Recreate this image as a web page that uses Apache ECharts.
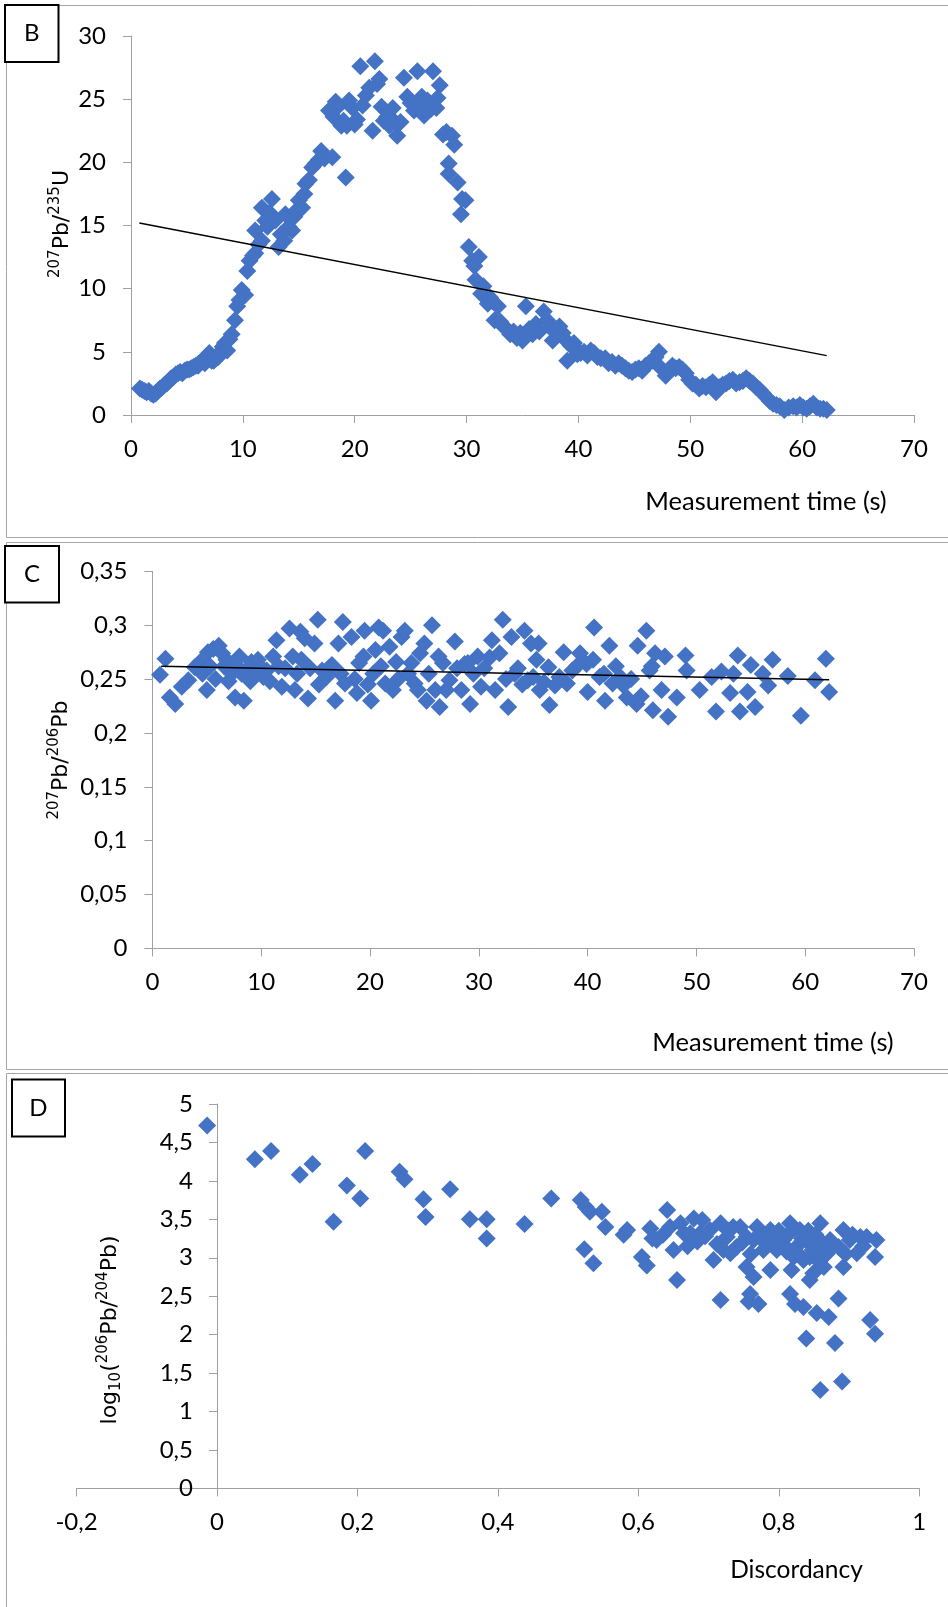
<!DOCTYPE html>
<html>
<head>
<meta charset="utf-8">
<title>Pb isotope ratios over measurement time and discordancy</title>
<script src="https://cdn.jsdelivr.net/npm/echarts@6/dist/echarts.min.js"></script>
<style>
  html, body { margin: 0; padding: 0; background: #ffffff; }
  #chart { width: 948px; height: 1607px; }
</style>
</head>
<body>
<div id="chart"></div>
<script>
// ---- Panel B: 207Pb/235U against measurement time (s) ----
const pb207U235 = [
  [0.8,2.1],[1.0,2.0],[1.2,1.9],[1.4,1.8],[1.6,1.9],[1.8,1.7],[2.0,1.6],[2.2,1.7],[2.4,1.9],[2.6,2.1],
  [2.8,2.2],[3.0,2.4],[3.2,2.5],[3.4,2.7],[3.6,2.9],[3.8,3.0],[4.0,3.2],[4.2,3.3],[4.4,3.4],[4.6,3.3],
  [4.8,3.5],[5.0,3.6],[5.2,3.6],[5.4,3.7],[5.6,3.8],[5.8,3.9],[6.0,3.9],[6.2,4.2],[6.4,4.3],[6.6,4.1],
  [6.8,4.4],[7.0,4.9],[7.2,4.3],[7.4,4.3],[7.6,4.5],[7.8,4.6],[8.0,5.0],[8.2,5.4],[8.4,5.7],[8.6,5.1],
  [8.8,6.0],[9.0,6.4],[9.3,7.5],[9.5,8.6],[9.7,9.1],[9.9,9.9],[10.2,9.5],[10.4,11.4],[10.6,12.2],[10.9,12.6],
  [11.1,12.8],[11.1,14.6],[11.4,13.5],[11.7,13.8],[11.7,16.4],[12.0,15.4],[12.2,14.9],[12.4,16.0],[12.6,17.1],[12.9,15.4],
  [13.2,13.3],[13.4,14.3],[13.7,13.8],[13.8,15.9],[14.1,14.9],[14.4,14.6],[14.6,15.7],[14.8,16.2],[15.0,17.0],[15.3,16.4],
  [15.5,17.5],[15.6,18.3],[15.9,18.6],[16.2,19.6],[16.5,19.9],[16.8,20.2],[17.0,20.9],[17.3,20.3],[17.7,24.1],[18.0,20.4],
  [18.1,23.6],[18.3,24.8],[18.6,24.5],[18.8,22.9],[19.0,23.3],[19.2,18.8],[19.3,22.9],[19.5,24.9],[19.8,24.3],[20.0,23.0],
  [20.2,23.4],[20.5,27.6],[20.7,24.5],[21.0,25.3],[21.3,25.9],[21.6,22.5],[21.8,28.0],[22.0,26.2],[22.2,26.6],[22.4,24.4],
  [22.6,23.3],[22.9,23.6],[23.1,22.9],[23.4,24.3],[23.6,23.2],[23.8,22.1],[24.1,23.2],[24.4,26.7],[24.7,25.2],[25.0,24.7],
  [25.3,24.1],[25.6,27.2],[25.8,24.3],[26.0,25.2],[26.2,23.7],[26.5,24.9],[26.8,24.2],[27.0,27.2],[27.3,24.3],[27.4,25.1],
  [27.6,26.1],[27.9,22.2],[28.2,22.4],[28.4,19.9],[28.4,19.1],[28.7,22.1],[28.9,21.4],[29.2,18.4],[29.5,15.9],[29.6,17.1],
  [29.9,17.0],[30.2,13.3],[30.5,12.2],[30.7,11.8],[30.8,10.7],[31.1,12.5],[31.3,9.6],[31.5,10.2],[31.9,8.8],[32.1,9.3],
  [32.3,9.0],[32.5,7.5],[32.8,8.6],[33.0,7.4],[33.3,7.0],[33.6,6.8],[33.9,6.4],[34.2,6.6],[34.5,6.1],[34.8,6.5],
  [35.0,5.9],[35.3,8.6],[35.6,6.8],[35.9,6.4],[36.2,7.2],[36.5,6.6],[36.9,8.2],[37.2,7.5],[37.5,6.9],[37.7,5.9],
  [38.0,6.8],[38.3,7.0],[38.6,6.5],[38.9,5.9],[39.0,4.3],[39.3,5.5],[39.6,5.7],[39.9,4.8],[40.2,4.9],[40.5,5.0],
  [40.8,4.7],[41.1,5.1],[41.4,4.9],[41.7,4.6],[42.0,4.5],[42.4,4.5],[42.7,4.1],[43.0,4.2],[43.3,3.9],[43.6,4.1],
  [43.9,3.9],[44.2,3.7],[44.5,3.5],[44.8,3.4],[45.1,3.6],[45.4,3.7],[45.7,3.5],[46.0,3.9],[46.3,4.1],[46.6,4.3],
  [46.9,4.6],[47.2,5.0],[47.4,3.7],[47.8,3.1],[48.1,3.6],[48.4,3.9],[48.7,3.7],[49.0,3.8],[49.3,3.6],[49.6,3.3],
  [49.9,2.8],[50.2,2.5],[50.5,2.4],[50.8,2.1],[51.1,2.3],[51.4,2.2],[51.7,2.4],[52.0,2.6],[52.3,1.8],[52.6,2.2],
  [52.9,2.4],[53.2,2.5],[53.5,2.7],[53.8,2.8],[54.1,2.5],[54.4,2.6],[54.7,2.7],[55.0,2.9],[55.3,2.7],[55.6,2.5],
  [55.9,2.2],[56.2,2.0],[56.5,1.7],[56.8,1.4],[57.1,1.1],[57.4,0.9],[57.7,0.8],[58.0,0.7],[58.4,0.4],[58.8,0.6],
  [59.2,0.7],[59.5,0.6],[59.8,0.8],[60.1,0.6],[60.4,0.5],[60.7,0.7],[61.0,0.9],[61.3,0.6],[61.6,0.5],[61.9,0.5],
  [62.2,0.4]
];
// linear trend over the same time span (end points)
const trendB = [[0.75, 15.2], [62.2, 4.7]];

// ---- Panel C: 207Pb/206Pb against measurement time (s) ----
const pb207Pb206 = [
  [0.7,0.254],[1.2,0.269],[1.6,0.233],[2.1,0.227],[2.7,0.243],[3.3,0.249],[3.9,0.261],[4.4,0.266],[4.6,0.255],[5.0,0.240],
  [5.1,0.275],[5.3,0.262],[5.6,0.278],[5.8,0.250],[6.1,0.281],[6.4,0.274],[6.6,0.262],[6.8,0.268],[7.0,0.248],[7.3,0.255],
  [7.6,0.233],[7.8,0.262],[8.0,0.271],[8.2,0.255],[8.4,0.230],[8.7,0.258],[9.0,0.248],[9.1,0.266],[9.4,0.255],[9.7,0.268],
  [9.9,0.262],[10.2,0.252],[10.5,0.258],[10.8,0.248],[11.1,0.271],[11.4,0.286],[11.6,0.262],[11.9,0.243],[12.2,0.260],[12.6,0.297],
  [12.9,0.271],[13.1,0.240],[13.3,0.255],[13.6,0.294],[13.7,0.268],[14.0,0.288],[14.3,0.232],[14.5,0.260],[14.9,0.283],[15.2,0.305],
  [15.3,0.245],[15.6,0.258],[16.0,0.252],[16.2,0.260],[16.5,0.263],[16.8,0.230],[17.1,0.283],[17.3,0.255],[17.5,0.303],[17.7,0.246],
  [18.3,0.289],[18.6,0.250],[18.8,0.237],[19.0,0.265],[19.4,0.271],[19.5,0.295],[19.8,0.245],[20.1,0.230],[20.3,0.255],[20.5,0.277],
  [20.8,0.298],[21.0,0.262],[21.2,0.295],[21.4,0.246],[21.8,0.280],[22.1,0.240],[22.4,0.266],[22.6,0.250],[22.9,0.289],[23.2,0.295],
  [23.5,0.255],[23.8,0.265],[24.1,0.246],[24.4,0.240],[24.6,0.274],[25.0,0.283],[25.2,0.230],[25.4,0.255],[25.7,0.300],[26.0,0.240],
  [26.3,0.271],[26.4,0.224],[26.7,0.265],[27.0,0.240],[27.3,0.249],[27.8,0.285],[28.0,0.260],[28.4,0.240],[28.7,0.264],[29.0,0.265],
  [29.2,0.227],[29.5,0.255],[29.9,0.271],[30.2,0.243],[30.5,0.260],[31.0,0.270],[31.2,0.286],[31.5,0.240],[31.9,0.274],[32.2,0.305],
  [32.5,0.250],[32.7,0.224],[33.0,0.289],[33.3,0.255],[33.6,0.260],[34.0,0.245],[34.2,0.295],[34.5,0.249],[34.8,0.283],[35.0,0.252],
  [35.3,0.268],[35.5,0.283],[35.6,0.240],[36.0,0.247],[36.4,0.261],[36.5,0.226],[37.0,0.244],[37.4,0.252],[37.8,0.275],[38.1,0.246],
  [38.6,0.258],[39.0,0.262],[39.3,0.274],[39.9,0.264],[40.0,0.238],[40.5,0.268],[40.6,0.298],[41.1,0.252],[41.5,0.255],[41.6,0.230],
  [42.0,0.281],[42.3,0.246],[42.6,0.262],[43.0,0.252],[43.3,0.244],[43.6,0.233],[44.0,0.250],[44.5,0.227],[44.6,0.281],[44.9,0.234],
  [45.4,0.295],[45.7,0.258],[45.9,0.262],[46.0,0.221],[46.2,0.274],[46.8,0.240],[47.1,0.271],[47.4,0.215],[48.2,0.233],[49.0,0.272],
  [49.1,0.258],[50.3,0.240],[51.4,0.252],[51.8,0.220],[52.3,0.257],[53.1,0.237],[53.4,0.255],[53.8,0.272],[54.0,0.220],[54.7,0.238],
  [55.0,0.263],[55.4,0.224],[56.1,0.255],[56.6,0.244],[57.0,0.268],[58.4,0.253],[59.6,0.216],[60.9,0.249],[61.9,0.269],[62.2,0.238]
];
const trendC = [[0.8, 0.262], [62.2, 0.2495]];

// ---- Panel D: log10(206Pb/204Pb) against discordancy ----
const discordLog = [
  [-0.014,4.72],[0.054,4.28],[0.077,4.39],[0.118,4.08],[0.136,4.22],[0.166,3.47],[0.185,3.94],[0.204,3.77],[0.211,4.39],[0.260,4.12],
  [0.267,4.02],[0.294,3.76],[0.297,3.53],[0.332,3.89],[0.360,3.50],[0.384,3.50],[0.384,3.25],[0.438,3.44],[0.476,3.77],[0.518,3.75],
  [0.523,3.11],[0.525,3.66],[0.531,3.60],[0.536,2.93],[0.548,3.60],[0.553,3.40],[0.579,3.30],[0.584,3.36],[0.605,3.01],[0.612,2.90],
  [0.617,3.38],[0.620,3.25],[0.626,3.23],[0.635,3.30],[0.641,3.62],[0.645,3.40],[0.650,3.10],[0.655,2.71],[0.660,3.45],[0.665,3.32],
  [0.670,3.15],[0.674,3.32],[0.679,3.51],[0.684,3.21],[0.688,3.32],[0.691,3.49],[0.695,3.28],[0.702,3.36],[0.707,2.97],[0.712,3.18],
  [0.717,2.45],[0.717,3.45],[0.721,3.10],[0.726,3.27],[0.728,3.35],[0.731,3.06],[0.735,3.40],[0.740,3.14],[0.745,3.40],[0.748,3.20],
  [0.754,3.27],[0.754,2.88],[0.757,2.43],[0.759,2.53],[0.760,3.05],[0.764,3.23],[0.764,2.75],[0.769,3.40],[0.771,2.40],[0.775,3.30],
  [0.778,3.10],[0.782,3.18],[0.788,3.36],[0.788,2.84],[0.792,3.23],[0.797,3.10],[0.800,3.35],[0.806,3.23],[0.809,3.15],[0.811,3.08],
  [0.813,3.30],[0.816,3.45],[0.816,2.53],[0.818,2.84],[0.821,3.01],[0.823,2.40],[0.825,3.14],[0.828,3.05],[0.830,3.36],[0.833,3.25],
  [0.835,2.97],[0.835,2.36],[0.839,3.23],[0.839,1.95],[0.842,3.35],[0.844,3.01],[0.844,2.71],[0.848,3.10],[0.849,2.80],[0.852,3.30],
  [0.854,3.19],[0.854,2.28],[0.857,2.95],[0.859,3.45],[0.859,1.28],[0.862,3.20],[0.864,3.10],[0.864,2.88],[0.868,3.05],[0.871,2.23],
  [0.873,3.23],[0.878,3.15],[0.880,1.89],[0.885,3.14],[0.885,2.47],[0.890,1.39],[0.892,3.36],[0.892,2.88],[0.895,3.05],[0.901,3.23],
  [0.905,3.30],[0.911,3.06],[0.916,3.27],[0.920,3.15],[0.925,3.27],[0.930,2.19],[0.937,3.01],[0.937,2.01],[0.939,3.23]
];

// axis ranges: [min, max, interval]
const timeRange = [0, 70, 10];
const ratioURange = [0, 30, 5];
const ratioPbRange = [0, 0.35, 0.05];
const discordRange = [-0.2, 1, 0.2];
const logRange = [0, 5, 0.5];

const BLUE = '#4472C4';
const AXIS_GRAY = '#a0a0a0';
const PANEL_GRAY = '#a6a6a6';
const LABEL_FONT = 'Lato, "Open Sans", sans-serif';
const TITLE_FONT = '"DejaVu Sans", Verdana, sans-serif';

function comma(v) {
  return String(Math.round(v * 1000) / 1000).replace('.', ',');
}

function valueAxis(gridIndex, range, labelMargin) {
  return {
    type: 'value',
    gridIndex: gridIndex,
    min: range[0], max: range[1], interval: range[2],
    splitLine: { show: false },
    axisLine: { show: true, onZero: false, lineStyle: { color: AXIS_GRAY, width: 1 } },
    axisTick: { show: true, inside: false, length: 8, lineStyle: { color: AXIS_GRAY, width: 1 } },
    axisLabel: {
      show: true, margin: labelMargin, color: '#000',
      fontFamily: LABEL_FONT, fontSize: 24,
      formatter: comma
    }
  };
}

function scatter(xi, data) {
  return {
    type: 'scatter', xAxisIndex: xi, yAxisIndex: xi, data: data,
    symbol: 'diamond', symbolSize: 18,
    itemStyle: { color: BLUE, opacity: 1 },
    silent: true, z: 2
  };
}

function trend(xi, data) {
  return {
    type: 'line', xAxisIndex: xi, yAxisIndex: xi, data: data,
    showSymbol: false, symbol: 'none',
    lineStyle: { color: '#000', width: 1.5 },
    silent: true, z: 3
  };
}

const supStyle = { fontFamily: TITLE_FONT, fontSize: 15, lineHeight: 18, verticalAlign: 'top', fill: '#000' };
const subStyle = { fontFamily: TITLE_FONT, fontSize: 15, lineHeight: 16, verticalAlign: 'bottom', fill: '#000' };
const mainStyle = { fontFamily: TITLE_FONT, fontSize: 22, lineHeight: 28, verticalAlign: 'middle', fill: '#000' };

function yTitle(x, y, text) {
  return {
    type: 'text', x: x, y: y, rotation: Math.PI / 2, z: 10,
    style: {
      text: text, align: 'center', verticalAlign: 'middle',
      rich: { m: mainStyle, sup: supStyle, sub: subStyle },
      fontFamily: TITLE_FONT, fontSize: 22, fill: '#000'
    }
  };
}

function xTitle(x, y, text, size) {
  return {
    type: 'text', x: x, y: y, z: 10,
    style: { text: text, align: 'center', verticalAlign: 'middle',
             fontFamily: LABEL_FONT, fontSize: size, fill: '#000' }
  };
}

function panelFrame(top, height) {
  return {
    type: 'rect', z: 0, silent: true,
    shape: { x: 6.5, y: top, width: 1000, height: height },
    style: { fill: null, stroke: PANEL_GRAY, lineWidth: 1 }
  };
}

function letterBox(x, y, w, h, letter) {
  return [
    { type: 'rect', z: 9, shape: { x: x, y: y, width: w, height: h },
      style: { fill: '#fff', stroke: '#000', lineWidth: 2 } },
    { type: 'text', z: 10, x: x + w / 2, y: y + h / 2,
      style: { text: letter, align: 'center', verticalAlign: 'middle',
               fontFamily: LABEL_FONT, fontSize: 24, fill: '#000' } }
  ];
}

const chart = echarts.init(document.getElementById('chart'), null, { renderer: 'canvas' });

// panel D grid spans discordancy -0.2..1; its vertical axis sits at discordancy 0
const gridD = { left: 76.5, top: 1104, width: 842.8, height: 384.4 };
const yB = valueAxis(0, ratioURange, 25);
const yC = valueAxis(1, ratioPbRange, 25);
const yD = valueAxis(2, logRange, 24);
yD.offset = -gridD.width * (0 - discordRange[0]) / (discordRange[1] - discordRange[0]);

chart.setOption({
  animation: false,
  backgroundColor: '#ffffff',
  grid: [
    { left: 131, top: 36, width: 783, height: 379, outerBoundsMode: 'none', containLabel: false },
    { left: 152.4, top: 571.4, width: 761.6, height: 377, outerBoundsMode: 'none', containLabel: false },
    Object.assign({ outerBoundsMode: 'none', containLabel: false }, gridD)
  ],
  xAxis: [
    valueAxis(0, timeRange, 22),
    valueAxis(1, timeRange, 22),
    valueAxis(2, discordRange, 22)
  ],
  yAxis: [yB, yC, yD],
  series: [
    scatter(0, pb207U235), trend(0, trendB),
    scatter(1, pb207Pb206), trend(1, trendC),
    scatter(2, discordLog)
  ],
  graphic: [
    panelFrame(5.5, 532),
    panelFrame(542.5, 527),
    panelFrame(1073.5, 600),
    ...letterBox(5, 5, 53.5, 57, 'B'),
    ...letterBox(5, 546, 54, 56.5, 'C'),
    ...letterBox(12, 1079.5, 53, 57, 'D'),
    yTitle(62, 224, '{sup|207}{m|Pb/}{sup|235}{m|U}'),
    yTitle(61, 760, '{sup|207}{m|Pb/}{sup|206}{m|Pb}'),
    yTitle(110, 1330, '{m|log}{sub|10}{m|(}{sup|206}{m|Pb/}{sup|204}{m|Pb)}'),
    xTitle(766, 502, 'Measurement time (s)', 25.5),
    xTitle(773, 1043, 'Measurement time (s)', 25.5),
    xTitle(796.5, 1570, 'Discordancy', 24.5)
  ]
});
</script>
</body>
</html>
